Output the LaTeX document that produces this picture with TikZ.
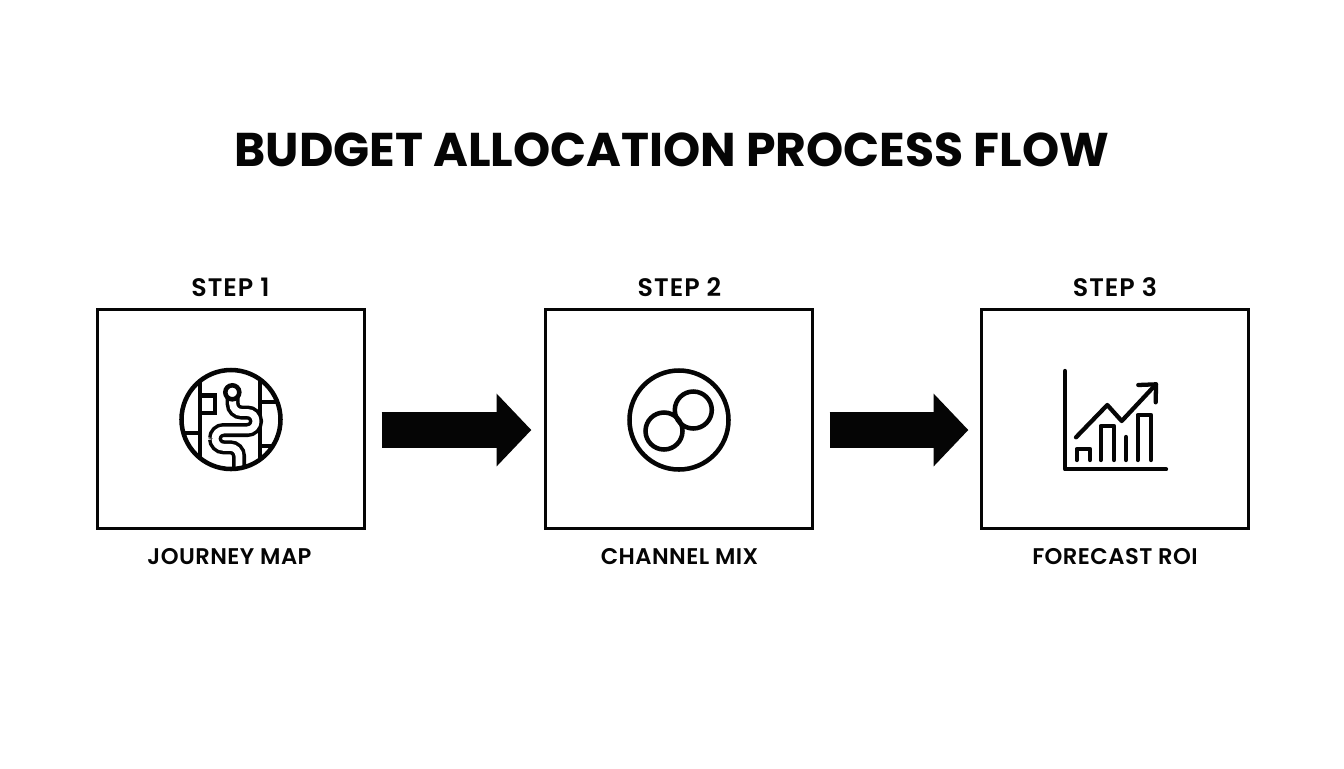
\documentclass[tikz,border=0pt]{standalone}
\usepackage{fontspec}
\setmainfont{Poppins}[BoldFont={Poppins SemiBold}]
\newfontface\titlef{Poppins Bold}
\newfontface\stepf{Poppins SemiBold}[LetterSpace=4]
\newfontface\capf{Poppins SemiBold}[LetterSpace=2]
\usetikzlibrary{arrows.meta}
\definecolor{ink}{HTML}{050505}
\tikzset{
  stepbox/.style={draw=ink,line width=2.4pt,minimum width=200.5pt,minimum height=164.5pt,inner sep=0pt,outer sep=0pt},
  titletext/.style={font=\titlef\fontsize{35.5}{42}\selectfont,text=ink,inner sep=0pt},
  steptext/.style={font=\stepf\fontsize{19}{22}\selectfont,text=ink,inner sep=0pt},
  captext/.style={font=\capf\fontsize{17}{20}\selectfont,text=ink,inner sep=0pt},
  bigarrow/.style={draw=ink,line width=27pt,-{Triangle[length=26pt,width=53pt,fill=ink]}},
  iconline/.style={draw=ink,line width=3.4pt},
  thinline/.style={draw=ink,line width=3.2pt,line cap=round,line join=round},
  road/.style={draw=ink,line width=10.5pt,rounded corners=6.5pt},
  roadin/.style={draw=white,line width=5.2pt,rounded corners=6.5pt}
}
\begin{document}
\begin{tikzpicture}[x=0.75pt,y=-0.75pt]
\useasboundingbox (0,0) rectangle (1344,768);
\fill[white] (0,0) rectangle (1344,768);
\node[titletext] (title) at (672,150) {BUDGET ALLOCATION PROCESS FLOW};
\node[stepbox] (b1) at (231,419) {};
\node[stepbox] (b2) at (679,419) {};
\node[stepbox] (b3) at (1115,419) {};
\node[steptext] (s1) at (230.5,287) {STEP 1};
\node[steptext] (s2) at (679.5,287) {STEP 2};
\node[steptext] (s3) at (1115,287) {STEP 3};
\node[captext] (c1) at (229.5,557) {JOURNEY MAP};
\node[captext] (c2) at (679.5,557) {CHANNEL MIX};
\node[captext] (c3) at (1115,557) {FORECAST ROI};
% arrows
\draw[bigarrow] ([shift={(17,11)}]b1.east) -- ([shift={(-14,11)}]b2.west);
\draw[bigarrow] ([shift={(17,11)}]b2.east) -- ([shift={(-13,11)}]b3.west);
% icon 1: journey map
\begin{scope}
\clip (231,419.5) circle (50);
\draw[iconline] (200,360) -- (200,480);
\draw[iconline] (260,360) -- (260,480);
\draw[iconline] (170,433) -- (200,433);
\draw[iconline] (260,402) -- (290,402);
\draw[iconline] (260,446) -- (290,446);
\draw[road] (232.7,396) -- (232.7,412.5) -- (256,412.5) -- (256,430) -- (215,430) -- (215,447.3) -- (239,447.3) -- (239,480);
\draw[roadin] (232.7,396) -- (232.7,412.5) -- (256,412.5) -- (256,430) -- (215,430) -- (215,447.3) -- (239,447.3) -- (239,480);
\end{scope}
\draw[iconline,fill=white] (200,395.5) rectangle (215,413);
\draw[iconline,fill=white] (232.3,392.3) circle (7);
\draw[iconline] (231,419.5) circle (49.5);
% icon 2: channel mix
\draw[iconline] (679,420) circle (49.5);
\draw[iconline] (664,431) circle (18.5);
\draw[iconline] (693.3,410) circle (18.5);
% icon 3: forecast
\draw[thinline] (1065,371) -- (1065,469.3) -- (1166,469.3);
\draw[thinline] (1076,437.3) -- (1107.3,405) -- (1121.7,421) -- (1156,384.3);
\draw[thinline] (1138.3,385) -- (1156,384.3) -- (1155.7,402.3);
\draw[thinline] (1076.7,460) -- (1076.7,449) -- (1090,449) -- (1090,460);
\draw[thinline] (1100.7,460) -- (1100.7,426) -- (1114,426) -- (1114,460);
\draw[thinline] (1126,437) -- (1126,460);
\draw[thinline] (1137.7,460) -- (1137.7,415) -- (1151,415) -- (1151,460);
\end{tikzpicture}
\end{document}
